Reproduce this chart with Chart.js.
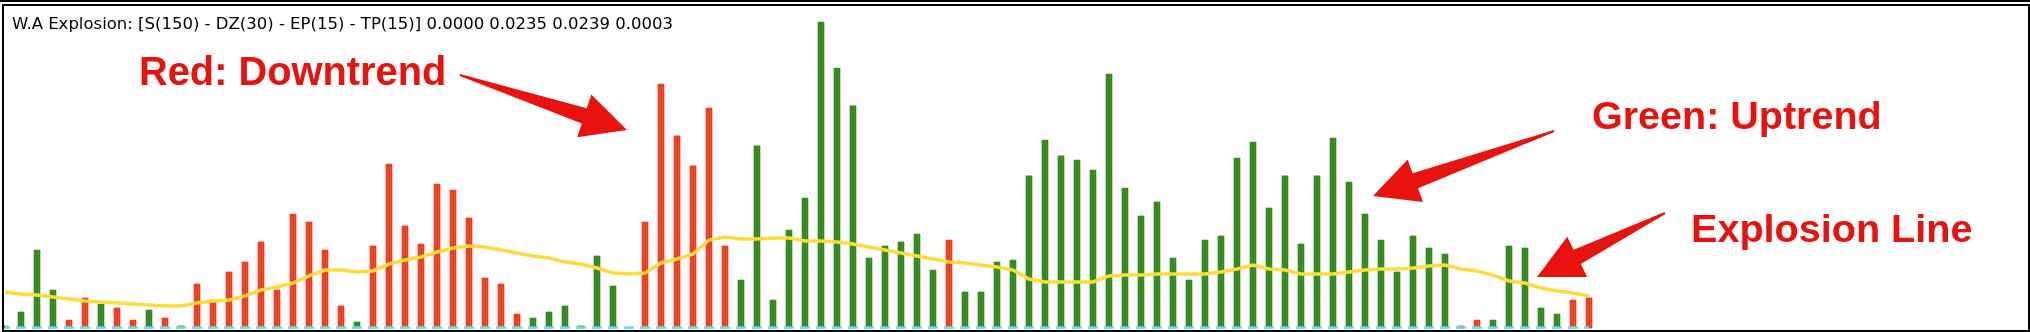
<!DOCTYPE html>
<html>
<head>
<meta charset="utf-8">
<script src="https://cdn.jsdelivr.net/npm/chart.js@4.4.0/dist/chart.umd.min.js"></script>
<style>
  html, body { margin: 0; padding: 0; background: #fff; overflow: hidden; }
  .stage { position: absolute; left: 0; top: 0; width: 2030px; height: 332px; overflow: hidden; background: #fff; }
  .topline { position: absolute; left: 0; top: 0; width: 2030px; height: 2px; background: #000; z-index: 2; }
  .frame { position: absolute; left: 2px; top: 4px; width: 2028px; height: 328px; box-sizing: border-box; border: 2px solid #000; z-index: 2; }
  #chart { position: absolute; left: -3px; top: 6px; z-index: 1; }
  .notes { position: absolute; left: 0; top: 0; z-index: 3; pointer-events: none; }
</style>
</head>
<body>
<div class="stage">
  <canvas id="chart" width="2032" height="324"></canvas>
  <div class="topline"></div>
  <div class="frame"></div>
  <svg class="notes" width="2030" height="332" xmlns="http://www.w3.org/2000/svg">
    <text x="12" y="29" font-family="DejaVu Sans" font-size="16.5" fill="#000">W.A Explosion: [S(150) - DZ(30) - EP(15) - TP(15)] 0.0000 0.0235 0.0239 0.0003</text>
    <text x="139" y="85" font-family="Liberation Sans, Arial" font-weight="bold" font-size="39.8" fill="#e8130e">Red: Downtrend</text>
    <text x="1592" y="129" font-family="Liberation Sans, Arial" font-weight="bold" font-size="39.5" fill="#e8130e">Green: Uptrend</text>
    <text x="1691" y="242" font-family="Liberation Sans, Arial" font-weight="bold" font-size="39.6" fill="#e8130e">Explosion Line</text>
    <g id="arrows" fill="#e8130e"></g>
  </svg>
</div>
<script>
// histogram (one bar per candle), trend colour per bar
const barValues = [
  0.0016, 0.0125, 0.0608, 0.0296, 0.0062, 0.0234, 0.0187, 0.0156, 0.0062, 0.0140,
  0.0078, 0.0016, 0.0343, 0.0203, 0.0437, 0.0515, 0.0671, 0.0296, 0.0889, 0.0827,
  0.0608, 0.0172, 0.0047, 0.0640, 0.1279, 0.0796, 0.0655, 0.1123, 0.1076, 0.0858,
  0.0390, 0.0343, 0.0109, 0.0078, 0.0125, 0.0172, 0.0016, 0.0562, 0.0328, 0,
  0.0827, 0.1903, 0.1498, 0.1264, 0.1716, 0.0640, 0.0374, 0.1420, 0.0218, 0.0764,
  0.1014, 0.2387, 0.2028, 0.1732, 0.0546, 0.0640, 0.0671, 0.0733, 0.0452, 0.0686,
  0.0281, 0.0281, 0.0515, 0.0530, 0.1186, 0.1466, 0.1342, 0.1310, 0.1232, 0.1981,
  0.1092, 0.0874, 0.0983, 0.0546, 0.0374, 0.0686, 0.0718, 0.1326, 0.1451, 0.0936,
  0.1186, 0.0655, 0.1186, 0.1482, 0.1139, 0.0889, 0.0686, 0.0437, 0.0718, 0.0624,
  0.0577, 0.0016, 0.0062, 0.0062, 0.0640, 0.0624, 0.0156, 0.0109, 0.0218, 0.0235
]
const barTrend = [
  'd','u','u','u','d','d','u','d','d','u',
  'd','u','d','d','d','d','d','d','d','d',
  'd','d','u','d','d','d','d','d','d','d',
  'd','d','d','u','u','u','u','u','u','u',
  'd','d','d','d','d','d','u','u','u','u',
  'u','u','u','u','u','u','u','u','u','d',
  'u','u','u','u','u','u','u','u','u','u',
  'u','u','u','u','u','u','u','u','u','u',
  'u','u','u','u','u','u','u','u','u','u',
  'u','d','d','u','u','u','u','u','d','d'
]
const explosionLine = [
  0.0281, 0.0265, 0.0257, 0.0242, 0.0226, 0.0211, 0.0203, 0.0195, 0.0187, 0.0179,
  0.0172, 0.0172, 0.0195, 0.0211, 0.0218, 0.0250, 0.0296, 0.0320, 0.0351, 0.0406,
  0.0452, 0.0452, 0.0437, 0.0445, 0.0499, 0.0530, 0.0554, 0.0593, 0.0624, 0.0640,
  0.0632, 0.0608, 0.0585, 0.0562, 0.0546, 0.0515, 0.0499, 0.0468, 0.0429, 0.0421,
  0.0429, 0.0507, 0.0538, 0.0577, 0.0686, 0.0710, 0.0694, 0.0694, 0.0702, 0.0702,
  0.0679, 0.0679, 0.0671, 0.0655, 0.0632, 0.0608, 0.0585, 0.0562, 0.0538, 0.0515,
  0.0507, 0.0491, 0.0476, 0.0452, 0.0382, 0.0359, 0.0359, 0.0359, 0.0359, 0.0406,
  0.0413, 0.0413, 0.0421, 0.0421, 0.0421, 0.0421, 0.0437, 0.0460, 0.0491, 0.0460,
  0.0452, 0.0421, 0.0421, 0.0421, 0.0437, 0.0452, 0.0460, 0.0460, 0.0468, 0.0484,
  0.0491, 0.0460, 0.0445, 0.0413, 0.0367, 0.0351, 0.0312, 0.0289, 0.0273, 0.0250
]
// dead zone is flat along the bottom
const deadZoneBars = [0, 99]
const deadZoneValues = [0.0003, 0.0003]

const slotCount = 127   // window keeps empty room right of the last candle
const labels = []
for (let i = 0; i < slotCount; i++) labels.push(String(i))

const upColor = "#388b22"
const downColor = "#ee3f22"

const ctx = document.getElementById("chart").getContext("2d")
new Chart(ctx, {
  data: {
    labels: labels,
    datasets: [
      {
        type: "line",
        label: "Dead zone",
        data: deadZoneBars.map((b, i) => ({ x: String(b), y: deadZoneValues[i] })),
        borderColor: "#55e6f0",
        borderWidth: 2.5,
        borderDash: [10, 6],
        borderDashOffset: 5,
        pointRadius: 0,
        order: 0
      },
      {
        type: "line",
        label: "Explosion",
        data: explosionLine,
        borderColor: "#fddb3d",
        borderWidth: 3.5,
        tension: 0,
        pointRadius: 0,
        order: 1
      },
      {
        type: "bar",
        label: "Trend",
        data: barValues,
        backgroundColor: barTrend.map(t => t === "u" ? upColor : downColor),
        barThickness: 6,
        order: 2
      }
    ]
  },
  options: {
    responsive: false,
    animation: false,
    layout: { padding: 0 },
    plugins: { legend: { display: false }, tooltip: { enabled: false } },
    scales: {
      x: { display: false, offset: true },
      y: { display: false, min: -0.00156, max: 0.25116 }
    }
  }
})

// annotation arrows: thin tail widening into a triangular head
function arrowPoints(tx, ty, px, py) {
  const len = Math.hypot(px - tx, py - ty)
  const ux = (px - tx) / len, uy = (py - ty) / len
  const nx = -uy, ny = ux
  const bx = px - ux * 45, by = py - uy * 45
  const pts = [
    [tx + nx * 1, ty + ny * 1],
    [bx + nx * 8, by + ny * 8],
    [bx + nx * 22.5, by + ny * 22.5],
    [px, py],
    [bx - nx * 22.5, by - ny * 22.5],
    [bx - nx * 8, by - ny * 8],
    [tx - nx * 1, ty - ny * 1]
  ]
  return pts.map(p => p[0].toFixed(1) + "," + p[1].toFixed(1)).join(" ")
}
const arrowGroup = document.getElementById("arrows")
const arrows = [[460, 75, 627, 130], [1554, 131, 1373, 196], [1665, 213, 1537, 277]]
arrows.forEach(a => {
  const poly = document.createElementNS("http://www.w3.org/2000/svg", "polygon")
  poly.setAttribute("points", arrowPoints(a[0], a[1], a[2], a[3]))
  arrowGroup.appendChild(poly)
})
</script>
</body>
</html>
